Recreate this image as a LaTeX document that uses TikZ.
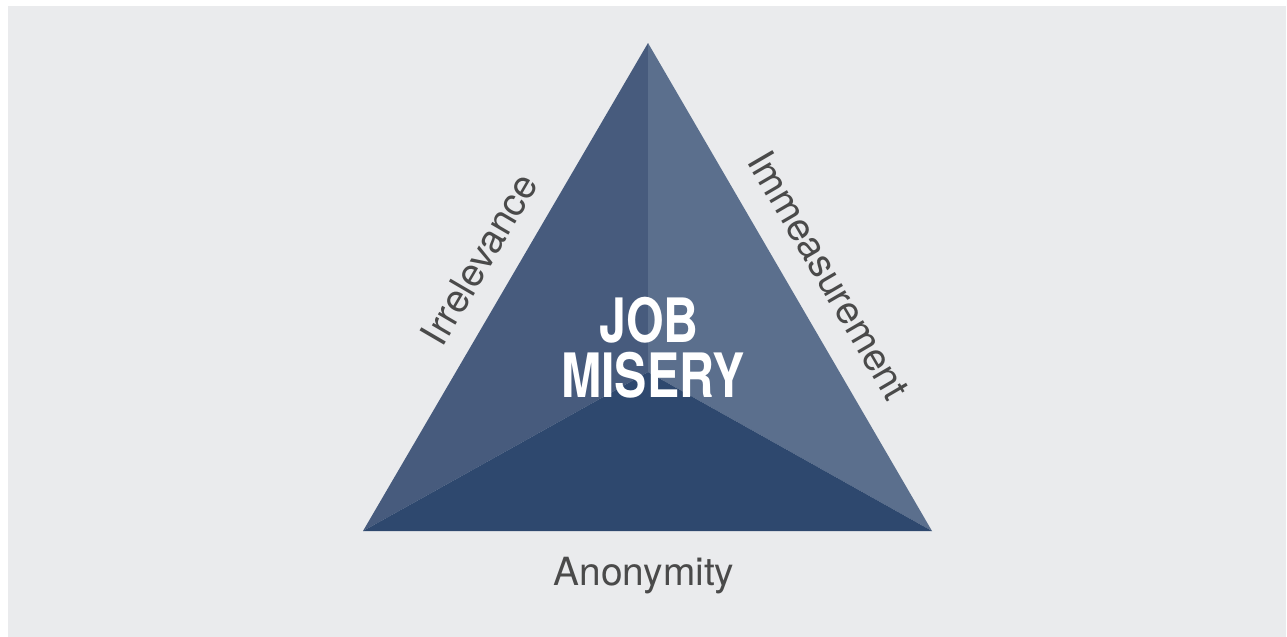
\documentclass[tikz,border=0pt]{standalone}
\usepackage{fontspec}
\usepackage{xcolor}
\setmainfont{TeX Gyre Heros}
\newfontfamily\condfont{TeX Gyre Heros}[FakeStretch=0.79]
\definecolor{bgGray}{HTML}{EAEBED}
\definecolor{faceLeft}{HTML}{475B7D}
\definecolor{faceRight}{HTML}{5B6F8D}
\definecolor{faceBottom}{HTML}{2E486E}
\definecolor{labelGray}{HTML}{4A4A4A}

\begin{document}
\begin{tikzpicture}[
        x=0.5pt, y=-0.5pt,
        side label/.style={
            font=\fontsize{19.4}{23}\selectfont,
            text=labelGray,
            inner sep=0pt
        },
        title label/.style={
            font=\condfont\bfseries\fontsize{30.6}{34}\selectfont,
            text=white,
            inner sep=0pt,
            anchor=base
        }
    ]
                \useasboundingbox (0,0) rectangle (1287,637);
                \fill[white] (0,0) rectangle (1287,637);
                \fill[bgGray] (8,6) rectangle (1286,637);

                \coordinate (apex) at (648,43);
                \coordinate (baseL) at (363,531);
                \coordinate (baseR) at (932,531);
                \coordinate (mid) at (648,372);

                % three faces of the pyramid
                \fill[faceLeft] (apex) -- (mid) -- (baseL) -- cycle;
                \fill[faceRight] (apex) -- (baseR) -- (mid) -- cycle;
                \fill[faceBottom] (baseL) -- (mid) -- (baseR) -- cycle;

                \node[title label] (job) at (649,342) {JOB};
                \node[title label] (misery) at (653,397) {MISERY};

                \node[side label, rotate=59.7] (irrelevance) at (479,259) {Irrelevance};
                \node[side label, rotate=-59.7] (immeasurement) at (829,275) {Immeasurement};
                \node[side label, anchor=base] (anonymity) at (644,585) {Anonymity};

\end{tikzpicture}
\end{document}
